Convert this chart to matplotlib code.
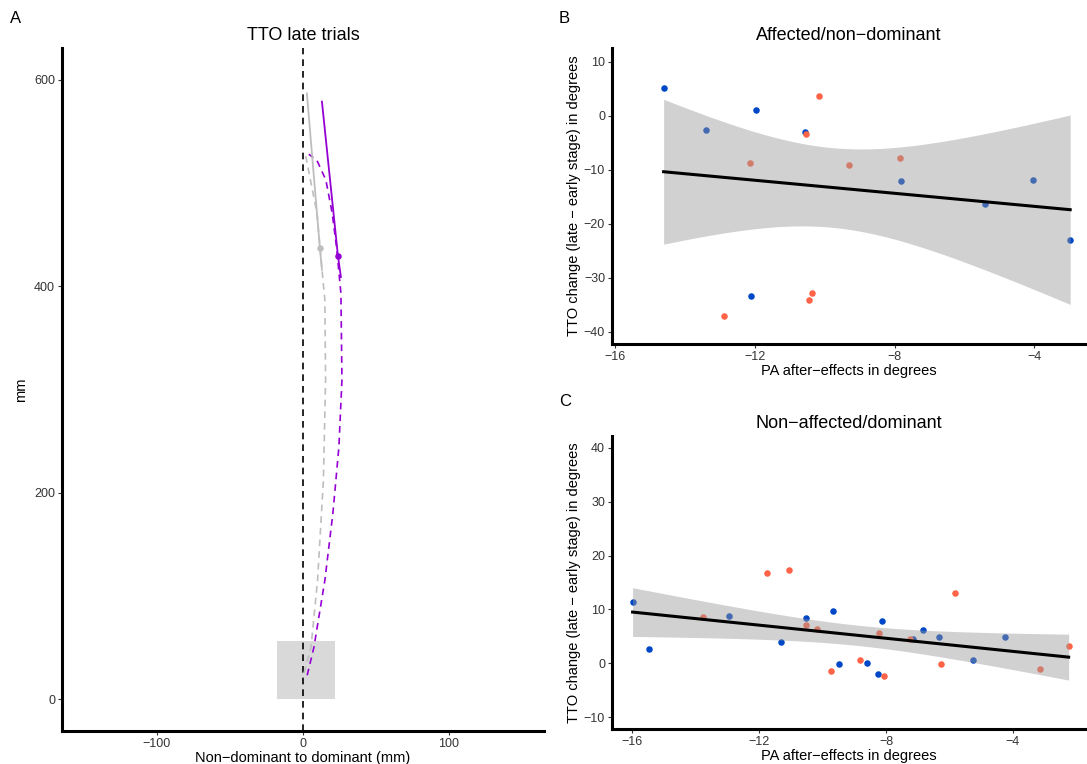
import numpy as np
import matplotlib
matplotlib.use("Agg")
import matplotlib.pyplot as plt
from matplotlib.patches import Rectangle

plt.rcParams["font.family"] = ["Liberation Sans", "DejaVu Sans"]
plt.rcParams["axes.unicode_minus"] = True

MINUS = "\u2212"

# --- panel A: mean hand trajectories (mm) ---
start_box = (-18, 0, 40, 56)  # x, y, width, height

grey_late_x = [0.7, 5.5, 10, 14, 15.5, 15, 13.7, 9.6, 1.5]
grey_late_y = [25, 50, 115, 212, 309, 387, 406, 471, 529]
purple_late_x = [2.9, 7.5, 15, 20.5, 24.6, 26.7, 26, 23, 20, 15.7, 9.6, 4]
purple_late_y = [23, 50, 115, 180, 244, 309, 393, 438, 471, 503, 522, 528]

grey_dir_x = [2.7, 11.6, 13]
grey_dir_y = [587, 437, 416]
purple_dir_x = [13, 24, 26]
purple_dir_y = [579, 429, 409]
grey_pt = (11.6, 437)
purple_pt = (24, 429)

# --- panel B: affected / non-dominant ---
b_blue_x = [-14.62, -13.42, -11.97, -10.57, -12.13, -7.83, -5.42, -4.03, -2.97]
b_blue_y = [5.07, -2.65, 1.06, -3.02, -33.4, -12.1, -16.4, -11.97, -23.1]
b_red_x = [-10.18, -10.54, -12.14, -9.31, -10.37, -10.44, -12.9, -7.86]
b_red_y = [3.59, -3.45, -8.7, -9.13, -32.8, -34.2, -37.2, -7.77]

# --- panel C: non-affected / dominant ---
c_blue_x = [-15.99, -15.46, -12.96, -11.32, -10.53, -9.66, -9.47, -8.59,
            -8.24, -8.13, -7.16, -6.84, -6.32, -5.27, -4.26]
c_blue_y = [11.3, 2.7, 8.83, 3.95, 8.35, 9.76, -0.19, 0.11,
            -1.93, 7.85, 4.51, 6.12, 4.94, 0.61, 4.94]
c_red_x = [-13.78, -11.75, -11.07, -10.52, -10.17, -9.74, -8.82, -8.07,
           -8.21, -7.25, -6.25, -5.83, -3.13, -2.24]
c_red_y = [8.65, 16.75, 17.25, 7.05, 6.36, -1.37, 0.56, -2.3,
           5.62, 4.51, -0.07, 13.04, -1.06, 3.21]

BLUE = "#0047C8"
RED = "#FF6347"


def style_axes(ax):
    for s in ("top", "right"):
        ax.spines[s].set_visible(False)
    for s in ("left", "bottom"):
        ax.spines[s].set_linewidth(2.2)
        ax.spines[s].set_color("black")
    ax.tick_params(axis="both", direction="out", length=3, width=0.8,
                   color="#333333", labelsize=9, labelcolor="#333333", pad=2)


def fmt(v):
    v = int(round(v))
    return f"{MINUS}{abs(v)}" if v < 0 else str(v)


def smooth_panel(ax, bx, by, rx, ry):
    x = np.array(bx + rx, dtype=float)
    y = np.array(by + ry, dtype=float)
    ax.scatter(bx, by, s=22, color=BLUE, zorder=2, linewidths=0)
    ax.scatter(rx, ry, s=22, color=RED, zorder=2, linewidths=0)

    # linear fit with 95% confidence band
    n = len(x)
    slope, icpt = np.polyfit(x, y, 1)
    resid = y - (icpt + slope * x)
    s = np.sqrt(np.sum(resid ** 2) / (n - 2))
    xs = np.linspace(x.min(), x.max(), 80)
    fit = icpt + slope * xs
    se = s * np.sqrt(1 / n + (xs - x.mean()) ** 2 / np.sum((x - x.mean()) ** 2))
    tcrit = {15: 2.131, 28: 2.048, 27: 2.052, 29: 2.045}.get(n - 2, 2.05)
    ax.fill_between(xs, fit - tcrit * se, fit + tcrit * se,
                    color="#999999", alpha=0.45, linewidth=0, zorder=3)
    ax.plot(xs, fit, color="black", lw=2.2, zorder=4)


fig = plt.figure(figsize=(10.87, 7.64), dpi=100)

# panel A
axA = fig.add_axes([0.057, 0.0432, 0.4434, 0.894])
axA.add_patch(Rectangle(start_box[:2], start_box[2], start_box[3],
                        facecolor="#D9D9D9", edgecolor="none", zorder=1))
axA.axvline(0, color="black", ls=(0, (4, 3)), lw=1.2, zorder=2)
axA.plot(grey_late_x, grey_late_y, color="#BEBEBE", ls=(0, (4, 3)), lw=1.2, zorder=3)
axA.plot(purple_late_x, purple_late_y, color="#9400D3", ls=(0, (4, 3)), lw=1.2, zorder=3)
axA.plot(grey_dir_x, grey_dir_y, color="#BEBEBE", lw=1.3, zorder=3)
axA.plot(purple_dir_x, purple_dir_y, color="#9400D3", lw=1.3, zorder=3)
axA.scatter(*grey_pt, s=22, color="#BEBEBE", zorder=4, linewidths=0)
axA.scatter(*purple_pt, s=22, color="#9400D3", zorder=4, linewidths=0)
axA.set_xlim(-165, 165)
axA.set_ylim(-31, 631)
axA.set_xticks([-100, 0, 100])
axA.set_xticklabels([fmt(v) for v in [-100, 0, 100]])
axA.set_yticks([0, 200, 400, 600])
style_axes(axA)
axA.set_xlabel(f"Non{MINUS}dominant to dominant (mm)", fontsize=10.5, labelpad=1)
axA.set_ylabel("mm", fontsize=10.5, labelpad=4)
axA.set_title("TTO late trials", fontsize=13, pad=6)

# panel B
axB = fig.add_axes([0.563, 0.5497, 0.435, 0.3874])
smooth_panel(axB, b_blue_x, b_blue_y, b_red_x, b_red_y)
axB.set_xlim(-16.1, -2.55)
axB.set_ylim(-42.3, 12.5)
bx_ticks = [-16, -12, -8, -4]
axB.set_xticks(bx_ticks)
axB.set_xticklabels([fmt(v) for v in bx_ticks])
by_ticks = [-40, -30, -20, -10, 0, 10]
axB.set_yticks(by_ticks)
axB.set_yticklabels([fmt(v) for v in by_ticks])
style_axes(axB)
axB.set_xlabel(f"PA after{MINUS}effects in degrees", fontsize=10.5, labelpad=1)
axB.set_ylabel(f"TTO change (late {MINUS} early stage) in degrees", fontsize=10.5, labelpad=2)
axB.set_title(f"Affected/non{MINUS}dominant", fontsize=13, pad=6)

# panel C
axC = fig.add_axes([0.563, 0.0458, 0.435, 0.3835])
smooth_panel(axC, c_blue_x, c_blue_y, c_red_x, c_red_y)
axC.set_xlim(-16.64, -1.73)
axC.set_ylim(-12.2, 42.2)
axC.set_xticks(bx_ticks)
axC.set_xticklabels([fmt(v) for v in bx_ticks])
cy_ticks = [-10, 0, 10, 20, 30, 40]
axC.set_yticks(cy_ticks)
axC.set_yticklabels([fmt(v) for v in cy_ticks])
style_axes(axC)
axC.set_xlabel(f"PA after{MINUS}effects in degrees", fontsize=10.5, labelpad=1)
axC.set_ylabel(f"TTO change (late {MINUS} early stage) in degrees", fontsize=10.5, labelpad=2)
axC.set_title(f"Non{MINUS}affected/dominant", fontsize=13, pad=6)

# panel letters
fig.text(0.009, 0.976, "A", fontsize=12, va="center")
fig.text(0.514, 0.976, "B", fontsize=12, va="center")
fig.text(0.514, 0.474, "C", fontsize=12, va="center")

fig.savefig("out.png", dpi=100, facecolor="white")
